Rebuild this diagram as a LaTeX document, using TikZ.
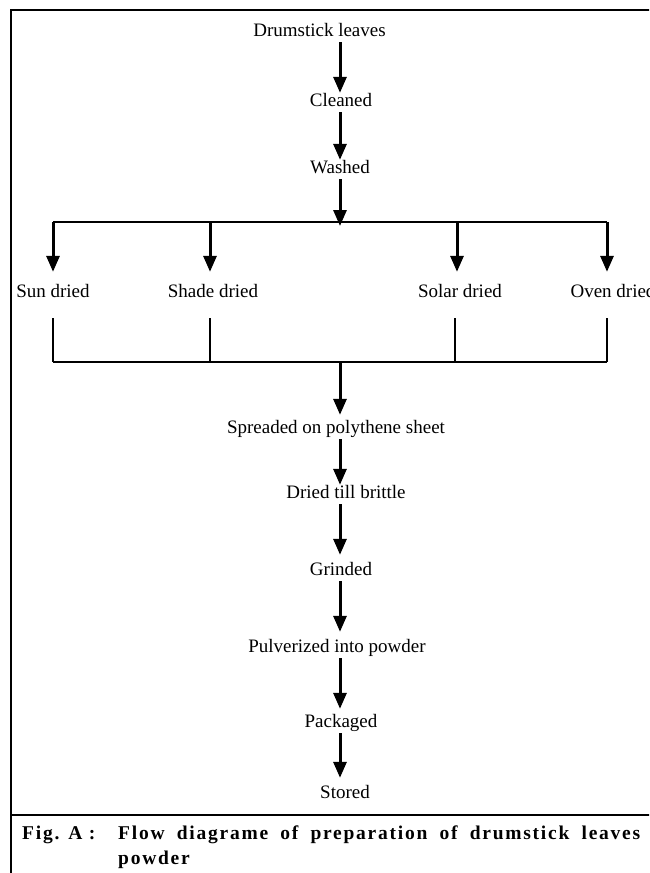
\documentclass[tikz,border=0pt]{standalone}
\usepackage{fontspec}
\setmainfont{Liberation Serif}
\usetikzlibrary{arrows.meta}
\begin{document}
\begin{tikzpicture}[x=1pt,y=-1pt,
  lbl/.style={inner sep=0pt, anchor=base, text height=13pt, text depth=6pt, font=\fontsize{19}{22}\selectfont},
  arr/.style={line width=3pt, -{Triangle[length=16pt,width=13pt]}},
  thinln/.style={line width=1.5pt},
  framel/.style={line width=2.8pt},
  captxt/.style={inner sep=0pt, anchor=base west, font=\fontsize{19.5}{23}\selectfont\bfseries\addfontfeatures{LetterSpace=9}}]
\useasboundingbox (0,0) rectangle (649,873);
\clip (0,0) rectangle (649,873);
\fill[white] (0,0) rectangle (649,873);
% frame
\draw[framel] (670,10) -- (11,10) -- (11,890);
\draw[framel] (11,815) -- (670,815);
% spine
\coordinate (sp) at (340,0);
% nodes
\node[lbl] (dl) at (319.5,36) {Drumstick leaves};
\node[lbl] (cl) at (341,106) {Cleaned};
\node[lbl] (wa) at (340,173) {Washed};
\coordinate (bt) at (340,222);
\coordinate (b1) at (53,222);
\coordinate (b2) at (210,222);
\coordinate (b3) at (457,222);
\coordinate (b4) at (607,222);
\node[lbl] (sun) at (53,297) {Sun dried};
\node[lbl] (sha) at (213,297) {Shade dried};
\node[lbl] (sol) at (460,297) {Solar dried};
\node[lbl] (ove) at (613,297) {Oven dried};
\coordinate (m1) at (53,362);
\coordinate (m2) at (210,362);
\coordinate (m3) at (455,362);
\coordinate (m4) at (607,362);
\coordinate (mc) at (340,362);
\node[lbl] (spr) at (336,433) {Spreaded on polythene sheet};
\node[lbl] (dr) at (346,498) {Dried till brittle};
\node[lbl] (gr) at (341,575) {Grinded};
\node[lbl] (pu) at (337,652) {Pulverized into powder};
\node[lbl] (pa) at (341,727) {Packaged};
\node[lbl] (st) at (345,798) {Stored};
% top chain
\draw[arr] (dl.south -| sp) -- (cl.north -| sp);
\draw[arr] (cl.south -| sp) -- (wa.north -| sp);
\draw[arr] (wa.south -| sp) -- ([yshift=-4pt]bt);
% branches
\draw[thinln] (b1) -- (b4);
\draw[arr, shorten >=12pt] (b1) -- (sun.north -| b1);
\draw[arr, shorten >=12pt] (b2) -- (sha.north -| b2);
\draw[arr, shorten >=12pt] (b3) -- (sol.north -| b3);
\draw[arr, shorten >=12pt] (b4) -- (ove.north -| b4);
\draw[thinln, shorten <=15pt] (sun.south -| m1) -- (m1);
\draw[thinln, shorten <=15pt] (sha.south -| m2) -- (m2);
\draw[thinln, shorten <=15pt] (sol.south -| m3) -- (m3);
\draw[thinln, shorten <=15pt] (ove.south -| m4) -- (m4);
\draw[thinln] (m1) -- (m4);
% lower chain
\draw[arr, shorten >=5pt] ([yshift=1pt]mc) -- (spr.north -| sp);
\draw[arr] (spr.south -| sp) -- (dr.north -| sp);
\draw[arr, shorten >=7pt] (dr.south -| sp) -- (gr.north -| sp);
\draw[arr, shorten >=7pt] (gr.south -| sp) -- (pu.north -| sp);
\draw[arr, shorten >=5pt] (pu.south -| sp) -- (pa.north -| sp);
\draw[arr, shorten >=7pt] (pa.south -| sp) -- (st.north -| sp);
% caption
\node[captxt] (fig) at (22,839) {Fig. A :};
\node[captxt] (c1) at (118,839) {\makebox[522pt][s]{Flow diagrame of preparation of drumstick leaves}};
\node[captxt] (c2) at (118,864) {powder};
\end{tikzpicture}
\end{document}
